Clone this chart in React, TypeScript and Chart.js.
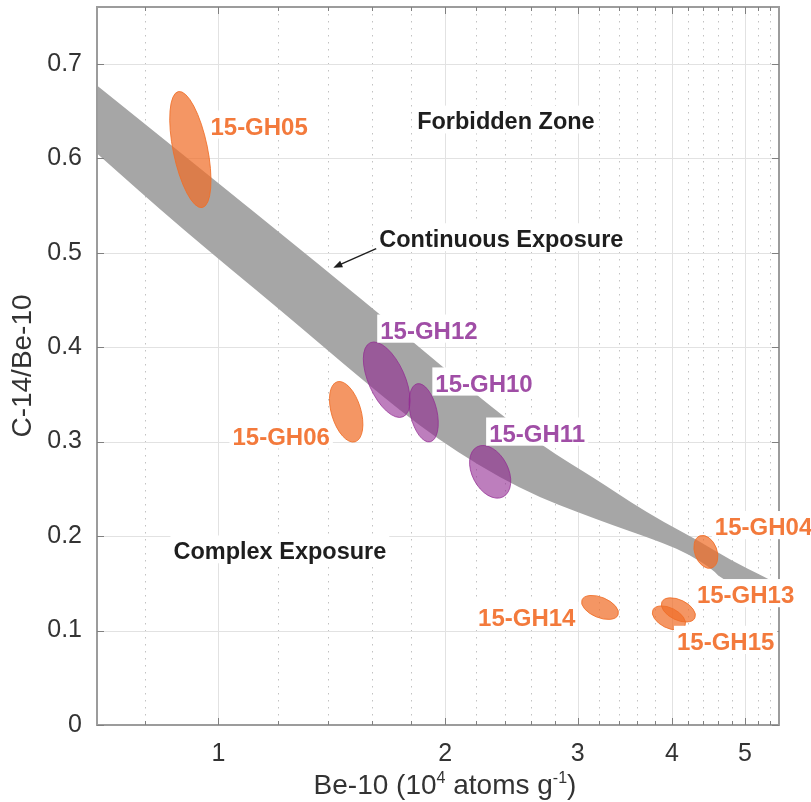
import React, { useEffect, useRef } from 'react';
import { Chart, registerables } from 'chart.js';

Chart.register(...registerables);

// ---- axes ----
const X_MIN = 0.69;
const X_MAX = 5.55;
const Y_MIN = 0;
const Y_MAX = 0.76;
const X_MAJOR_TICKS = [1, 2, 3, 4, 5];
const X_MINOR_TICKS = [0.8, 1.2, 1.4, 1.6, 1.8, 2.2, 2.4, 2.6, 2.8, 3.2, 3.4, 3.6, 3.8, 4.2, 4.4, 4.6, 4.8, 5.2, 5.4];
const Y_TICKS = [0, 0.1, 0.2, 0.3, 0.4, 0.5, 0.6, 0.7];

// ---- continuous exposure band (Be-10, C-14/Be-10) ----
const BAND_UPPER_X = [0.69, 0.9465, 1.285, 1.63, 2.206, 2.698, 3.182, 3.518, 3.893, 4.318, 4.775, 5.347, 5.546];
const BAND_UPPER_Y = [0.6769, 0.589, 0.5032, 0.4364, 0.3485, 0.2945, 0.2595, 0.2362, 0.215, 0.196, 0.1748, 0.1557, 0.1483];
const BAND_LOWER_X = [0.69, 0.8906, 1.208, 1.557, 1.952, 2.515, 3.182, 3.893, 4.227, 4.535, 4.67, 5.546];
const BAND_LOWER_Y = [0.6049, 0.5265, 0.4396, 0.3644, 0.3019, 0.2489, 0.2172, 0.1928, 0.1801, 0.1642, 0.1536, 0.125];

// ---- samples: error ellipses (major-axis end points) ----
const SAMPLE_NAMES = ['15-GH05', '15-GH06', '15-GH12', '15-GH10', '15-GH11', '15-GH04', '15-GH14', '15-GH13', '15-GH15'];
const SAMPLE_GROUP = ['orange', 'orange', 'purple', 'purple', 'purple', 'orange', 'orange', 'orange', 'orange'];
const ELL_END1_X = [0.885, 1.438, 1.591, 1.836, 2.206, 4.358, 3.039, 3.88, 3.775];
const ELL_END1_Y = [0.6705, 0.3633, 0.4047, 0.3612, 0.2945, 0.2002, 0.1324, 0.1303, 0.1218];
const ELL_END2_X = [0.952, 1.519, 1.759, 1.911, 2.388, 4.52, 3.393, 4.291, 4.163];
const ELL_END2_Y = [0.5477, 0.2998, 0.3263, 0.2998, 0.2415, 0.1663, 0.1165, 0.1133, 0.1049];
const ELL_AXIS_RATIO = [0.29, 0.47, 0.45, 0.45, 0.64, 0.65, 0.52, 0.55, 0.56];
const LABEL_X = [0.976, 1.044, 1.64, 1.941, 2.288, 4.562, 2.212, 4.318, 4.063];
const LABEL_Y = [0.634, 0.306, 0.418, 0.362, 0.309, 0.210, 0.114, 0.138, 0.0885];

// ---- annotations ----
const NOTE_TEXT = ['Forbidden Zone', 'Continuous Exposure', 'Complex Exposure'];
const NOTE_X = [1.836, 1.635, 0.8716];
const NOTE_Y = [0.6393, 0.5148, 0.1843];
const ARROW_FROM = [1.62, 0.5042];
const ARROW_TO = [1.421, 0.4841];

const COLORS: Record<string, { fill: string; stroke: string; text: string }> = {
  orange: { fill: 'rgba(240,110,40,0.72)', stroke: 'rgba(240,110,40,0.85)', text: 'rgb(243,122,60)' },
  purple: { fill: 'rgba(145,40,145,0.6)', stroke: 'rgba(145,40,145,0.72)', text: 'rgb(160,78,166)' },
};

const FONT = '"Liberation Sans", Arial, Helvetica, sans-serif';

function drawBoxedText(ctx: CanvasRenderingContext2D, text: string, x: number, cy: number, size: number, color: string) {
  ctx.font = `bold ${size}px ${FONT}`;
  const w = ctx.measureText(text).width;
  const half = 0.358 * size;
  ctx.fillStyle = '#ffffff';
  ctx.fillRect(x - 3, cy - half - 7, w + 6, 2 * half + 11);
  ctx.fillStyle = color;
  ctx.textBaseline = 'alphabetic';
  ctx.textAlign = 'left';
  ctx.fillText(text, x, cy + half);
}

function smoothPath(ctx: CanvasRenderingContext2D, pts: number[][], start: boolean) {
  if (start) ctx.moveTo(pts[0][0], pts[0][1]);
  else ctx.lineTo(pts[0][0], pts[0][1]);
  for (let i = 1; i < pts.length - 1; i++) {
    const mx = (pts[i][0] + pts[i + 1][0]) / 2;
    const my = (pts[i][1] + pts[i + 1][1]) / 2;
    ctx.quadraticCurveTo(pts[i][0], pts[i][1], mx, my);
  }
  const last = pts[pts.length - 1];
  ctx.lineTo(last[0], last[1]);
}

const scenePlugin = {
  id: 'scene',
  beforeDatasetsDraw(chart: any) {
    const { ctx, chartArea: a, scales } = chart;
    const xs = scales.x;
    const ys = scales.y;
    ctx.save();
    ctx.beginPath();
    ctx.rect(a.left, a.top, a.right - a.left, a.bottom - a.top);
    ctx.clip();
    // minor dotted grid
    ctx.strokeStyle = '#c2c2c2';
    ctx.lineWidth = 1;
    ctx.setLineDash([1.5, 5.5]);
    X_MINOR_TICKS.forEach((v) => {
      const px = Math.round(xs.getPixelForValue(v)) + 0.5;
      ctx.beginPath();
      ctx.moveTo(px, a.top);
      ctx.lineTo(px, a.bottom);
      ctx.stroke();
    });
    ctx.setLineDash([]);
    // major grid
    ctx.strokeStyle = '#e2e2e2';
    X_MAJOR_TICKS.forEach((v) => {
      const px = Math.round(xs.getPixelForValue(v)) + 0.5;
      ctx.beginPath();
      ctx.moveTo(px, a.top);
      ctx.lineTo(px, a.bottom);
      ctx.stroke();
    });
    Y_TICKS.forEach((v) => {
      const py = Math.round(ys.getPixelForValue(v)) + 0.5;
      ctx.beginPath();
      ctx.moveTo(a.left, py);
      ctx.lineTo(a.right, py);
      ctx.stroke();
    });
    // band
    const up = BAND_UPPER_X.map((v, i) => [xs.getPixelForValue(v), ys.getPixelForValue(BAND_UPPER_Y[i])]);
    const lo = BAND_LOWER_X.map((v, i) => [xs.getPixelForValue(v), ys.getPixelForValue(BAND_LOWER_Y[i])]).reverse();
    ctx.fillStyle = '#a6a6a6';
    ctx.beginPath();
    smoothPath(ctx, up, true);
    smoothPath(ctx, lo, false);
    ctx.closePath();
    ctx.fill();
    ctx.restore();

    // ellipses
    ctx.save();
    SAMPLE_NAMES.forEach((_, i) => {
      const x1 = xs.getPixelForValue(ELL_END1_X[i]);
      const y1 = ys.getPixelForValue(ELL_END1_Y[i]);
      const x2 = xs.getPixelForValue(ELL_END2_X[i]);
      const y2 = ys.getPixelForValue(ELL_END2_Y[i]);
      const cx = (x1 + x2) / 2;
      const cy = (y1 + y2) / 2;
      const ra = Math.hypot(x2 - x1, y2 - y1) / 2;
      const rb = ra * ELL_AXIS_RATIO[i];
      const ang = Math.atan2(y2 - y1, x2 - x1);
      const c = COLORS[SAMPLE_GROUP[i]];
      ctx.beginPath();
      ctx.ellipse(cx, cy, ra, rb, ang, 0, Math.PI * 2);
      ctx.fillStyle = c.fill;
      ctx.fill();
      ctx.strokeStyle = c.stroke;
      ctx.lineWidth = 1;
      ctx.stroke();
    });
    ctx.restore();

    // axes box and inward ticks
    ctx.save();
    ctx.strokeStyle = '#9c9c9c';
    ctx.lineWidth = 2;
    ctx.strokeRect(a.left, a.top, a.right - a.left, a.bottom - a.top);
    ctx.strokeStyle = '#808080';
    ctx.lineWidth = 1;
    const xt = [...X_MAJOR_TICKS.map((v) => [v, 7]), ...X_MINOR_TICKS.map((v) => [v, 4])];
    xt.forEach(([v, len]) => {
      const px = Math.round(xs.getPixelForValue(v)) + 0.5;
      ctx.beginPath();
      ctx.moveTo(px, a.bottom);
      ctx.lineTo(px, a.bottom - len);
      ctx.moveTo(px, a.top);
      ctx.lineTo(px, a.top + len);
      ctx.stroke();
    });
    Y_TICKS.forEach((v) => {
      const py = Math.round(ys.getPixelForValue(v)) + 0.5;
      ctx.beginPath();
      ctx.moveTo(a.left, py);
      ctx.lineTo(a.left + 7, py);
      ctx.moveTo(a.right, py);
      ctx.lineTo(a.right - 7, py);
      ctx.stroke();
    });
    ctx.restore();
  },
  afterDraw(chart: any) {
    const { ctx, chartArea: a, scales } = chart;
    const xs = scales.x;
    const ys = scales.y;
    ctx.save();
    // sample labels
    SAMPLE_NAMES.forEach((name, i) => {
      drawBoxedText(ctx, name, xs.getPixelForValue(LABEL_X[i]), ys.getPixelForValue(LABEL_Y[i]), 24, COLORS[SAMPLE_GROUP[i]].text);
    });
    // annotations
    NOTE_TEXT.forEach((t, i) => {
      drawBoxedText(ctx, t, xs.getPixelForValue(NOTE_X[i]), ys.getPixelForValue(NOTE_Y[i]), 23.5, '#1e1e1e');
    });
    // arrow
    const ax1 = xs.getPixelForValue(ARROW_FROM[0]);
    const ay1 = ys.getPixelForValue(ARROW_FROM[1]);
    const ax2 = xs.getPixelForValue(ARROW_TO[0]);
    const ay2 = ys.getPixelForValue(ARROW_TO[1]);
    const ang = Math.atan2(ay2 - ay1, ax2 - ax1);
    ctx.strokeStyle = '#1e1e1e';
    ctx.fillStyle = '#1e1e1e';
    ctx.lineWidth = 1.4;
    ctx.beginPath();
    ctx.moveTo(ax1, ay1);
    ctx.lineTo(ax2 - 6 * Math.cos(ang), ay2 - 6 * Math.sin(ang));
    ctx.stroke();
    ctx.beginPath();
    ctx.moveTo(ax2, ay2);
    ctx.lineTo(ax2 - 9 * Math.cos(ang) + 3.5 * Math.sin(ang), ay2 - 9 * Math.sin(ang) - 3.5 * Math.cos(ang));
    ctx.lineTo(ax2 - 9 * Math.cos(ang) - 3.5 * Math.sin(ang), ay2 - 9 * Math.sin(ang) + 3.5 * Math.cos(ang));
    ctx.closePath();
    ctx.fill();

    // axis titles
    ctx.fillStyle = '#333333';
    const big = `28px ${FONT}`;
    const small = `16px ${FONT}`;
    const segs: [string, string, number][] = [
      ['Be-10 (10', big, 0],
      ['4', small, -11],
      [' atoms g', big, 0],
      ['-1', small, -11],
      [')', big, 0],
    ];
    let total = 0;
    segs.forEach(([t, f]) => {
      ctx.font = f;
      total += ctx.measureText(t).width;
    });
    let x = (a.left + a.right) / 2 + 7 - total / 2;
    const base = a.bottom + 69;
    ctx.textAlign = 'left';
    ctx.textBaseline = 'alphabetic';
    segs.forEach(([t, f, dy]) => {
      ctx.font = f;
      ctx.fillText(t, x, base + dy);
      x += ctx.measureText(t).width;
    });
    ctx.translate(23, (a.top + a.bottom) / 2);
    ctx.rotate(-Math.PI / 2);
    ctx.font = big;
    ctx.textAlign = 'center';
    ctx.textBaseline = 'middle';
    ctx.fillText('C-14/Be-10', 0, 0);
    ctx.restore();
  },
};

export default function App() {
  const canvasRef = useRef<HTMLCanvasElement | null>(null);

  useEffect(() => {
    if (!canvasRef.current) return;
    const centers = SAMPLE_NAMES.map((_, i) => ({
      x: Math.sqrt(ELL_END1_X[i] * ELL_END2_X[i]),
      y: (ELL_END1_Y[i] + ELL_END2_Y[i]) / 2,
    }));
    const chart = new Chart(canvasRef.current, {
      type: 'scatter',
      data: {
        datasets: [
          {
            label: 'samples',
            data: centers,
            pointRadius: 0,
            pointHoverRadius: 0,
          },
        ],
      },
      options: {
        animation: false,
        responsive: true,
        maintainAspectRatio: false,
        events: [],
        layout: { padding: { left: 0, top: 7, right: 32, bottom: 0 } },
        plugins: { legend: { display: false }, tooltip: { enabled: false }, title: { display: false } },
        scales: {
          x: {
            type: 'logarithmic',
            min: X_MIN,
            max: X_MAX,
            grid: { display: false, drawTicks: false },
            border: { display: false },
            ticks: {
              autoSkip: false,
              maxRotation: 0,
              padding: 14,
              color: '#333333',
              font: { family: FONT, size: 25 },
              callback: (v: any) => String(v),
            },
            afterBuildTicks: (s: any) => {
              s.ticks = X_MAJOR_TICKS.map((v) => ({ value: v }));
            },
            afterFit: (s: any) => {
              s.height = 77;
              s.paddingLeft = 0;
              s.paddingRight = 0;
              s.paddingTop = 0;
              s.paddingBottom = 0;
            },
          },
          y: {
            type: 'linear',
            min: Y_MIN,
            max: Y_MAX,
            grid: { display: false, drawTicks: false },
            border: { display: false },
            ticks: {
              autoSkip: false,
              padding: 15,
              color: '#333333',
              font: { family: FONT, size: 25 },
              callback: (v: any) => (Number(v) === 0 ? '0' : Number(v).toFixed(1)),
            },
            afterBuildTicks: (s: any) => {
              s.ticks = Y_TICKS.map((v) => ({ value: v }));
            },
            afterFit: (s: any) => {
              s.width = 97;
              s.paddingLeft = 0;
              s.paddingRight = 0;
              s.paddingTop = 0;
              s.paddingBottom = 0;
            },
          },
        },
      },
      plugins: [scenePlugin],
    });
    return () => chart.destroy();
  }, []);

  return (
    <div style={{ position: 'absolute', left: 0, top: 0, width: 811, height: 802, background: '#ffffff' }}>
      <canvas ref={canvasRef} />
    </div>
  );
}
